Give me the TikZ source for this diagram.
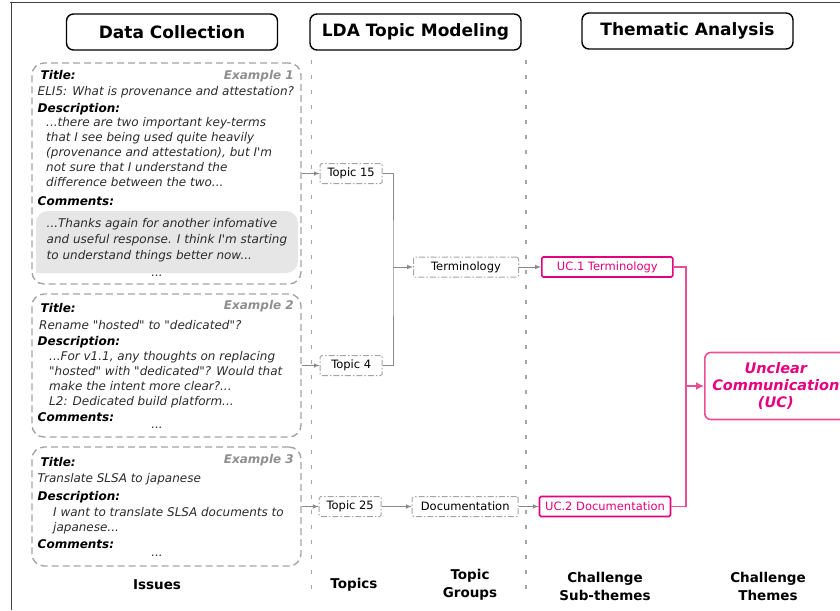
\documentclass[tikz,border=0pt]{standalone}
\usepackage{fontspec}
\setmainfont{DejaVu Sans}
\usetikzlibrary{arrows, arrows.meta, positioning}
\definecolor{mpink}{HTML}{E5007D}
\definecolor{mpinkl}{HTML}{EA4F96}
\definecolor{mgray}{HTML}{A5A5A5}
\definecolor{mdark}{HTML}{2B2B2B}
\definecolor{mtag}{HTML}{8F8F8F}
\definecolor{mbubble}{HTML}{E6E6E6}
\definecolor{mline}{HTML}{8A8A8A}
\tikzstyle{phase} = [rectangle, rounded corners=7pt, draw, line width=1.4pt, minimum width=211pt, minimum height=36pt, font=\bfseries\fontsize{17}{20}\selectfont]
\tikzstyle{issue} = [rectangle, rounded corners=12pt, draw=mgray, line width=1.4pt, dash pattern=on 7pt off 4pt, minimum width=269pt]
\tikzstyle{field} = [inner sep=0pt, anchor=base west, font=\bfseries\itshape\fontsize{12}{15}\selectfont]
\tikzstyle{tag} = [inner sep=0pt, anchor=base east, text=mtag, font=\bfseries\itshape\fontsize{12}{15}\selectfont]
\tikzstyle{body} = [inner sep=0pt, anchor=base west, align=left, text=mdark, font=\itshape\fontsize{12}{15}\selectfont]
\tikzstyle{lines} = [body, anchor=north west]
\tikzstyle{topic} = [rectangle, rounded corners=1.5pt, draw=mgray, line width=1pt, dash pattern=on 6pt off 2pt on 1.5pt off 2pt, minimum width=62pt, minimum height=20pt, inner sep=2pt, font=\fontsize{11.5}{14}\selectfont]
\tikzstyle{subtheme} = [rectangle, rounded corners=1.5pt, draw=mpink, line width=1.6pt, text=mpink, minimum width=131pt, minimum height=20pt, inner sep=2pt, font=\fontsize{11.5}{14}\selectfont]
\tikzstyle{theme} = [rectangle, rounded corners=6pt, draw=mpinkl, line width=1.6pt, text=mpink, align=center, minimum width=142pt, minimum height=67pt, font=\bfseries\itshape\fontsize{14.5}{17}\selectfont]
\tikzstyle{colname} = [align=center, font=\bfseries\fontsize{13.5}{18}\selectfont]
\tikzstyle{divider} = [mgray, line width=1.5pt, dash pattern=on 4pt off 11pt]
\tikzstyle{cable} = [line width=1pt, mline, ->, >=latex]
\tikzstyle{wire} = [line width=1pt, mline]
\tikzstyle{pcable} = [line width=1.5pt, mpinkl, -{Latex[length=8pt, width=8pt]}]
\tikzstyle{pwire} = [line width=1.5pt, mpinkl]

\begin{document}
\begin{tikzpicture}[x=1pt, y=-1pt]
  \useasboundingbox (0,0) rectangle (840,610);
  \draw [black!75, line width=1pt] (10,3) -- (840,3);
  \draw [black!75, line width=1pt] (11,3) -- (11,610);
  % phases
  \node (dc) [phase] at (172,32) {Data Collection};
  \node (lda) [phase] at (415.5,32) {LDA Topic Modeling};
  \node (ta) [phase] at (687.5,31) {Thematic Analysis};
  \draw [divider] (311.5,60) -- (311.5,592);
  \draw [divider] (526,60) -- (526,592);
  % issue 1
  \node (ex1) [issue, minimum height=221pt] at (166.5,173.5) {};
  \fill [mbubble, rounded corners=12pt] (36,273) -- (36,211) -- (298,211) -- (298,273) -- (36,273);
  \node (ex1title) [field] at (40.5,79) {Title:};
  \node (ex1tag) [tag] at (294,79) {Example 1};
  \node (ex1name) [body] at (37.5,95.5) {ELI5: What is provenance and attestation?};
  \node (ex1desc) [field] at (37.5,112) {Description:};
  \node (ex1text) [lines] at (46,117.4) {...there are two important key-terms\\that I see being used quite heavily\\(provenance and attestation), but I\textquotesingle m\\not sure that I understand the\\difference between the two...};
  \node (ex1com) [field] at (37.5,205) {Comments:};
  \node (ex1reply) [lines, font=\itshape\fontsize{12}{16}\selectfont] at (46.5,218.4) {...Thanks again for another infomative\\and useful response. I think I\textquotesingle m starting\\to understand things better now...};
  \node (ex1more) [body, anchor=base] at (157,276) {...};
  % issue 2
  \node (ex2) [issue, minimum height=143pt] at (166.5,365.5) {};
  \node (ex2title) [field] at (40.5,312.5) {Title:};
  \node (ex2tag) [tag] at (294,309.5) {Example 2};
  \node (ex2name) [body] at (39,329.5) {Rename \textquotedbl hosted\textquotedbl{} to \textquotedbl dedicated\textquotedbl ?};
  \node (ex2desc) [field] at (37.5,345.5) {Description:};
  \node (ex2text) [lines, font=\itshape\fontsize{12}{14.8}\selectfont] at (49,351.4) {...For v1.1, any thoughts on replacing\\\textquotedbl hosted\textquotedbl{} with \textquotedbl dedicated\textquotedbl ? Would that\\make the intent more clear?...\\L2: Dedicated build platform...};
  \node (ex2com) [field] at (37.5,421) {Comments:};
  \node (ex2more) [body, anchor=base] at (157,428.5) {...};
  % issue 3
  \node (ex3) [issue, minimum height=119pt] at (166.5,506.5) {};
  \node (ex3title) [field] at (40.5,466.5) {Title:};
  \node (ex3tag) [tag] at (294,463.5) {Example 3};
  \node (ex3name) [body] at (37.5,482.5) {Translate SLSA to japanese};
  \node (ex3desc) [field] at (37.5,500.5) {Description:};
  \node (ex3text) [lines] at (53,507.4) {I want to translate SLSA documents to\\japanese...};
  \node (ex3com) [field] at (37.5,548.5) {Comments:};
  \node (ex3more) [body, anchor=base] at (157,556) {...};
  % topics and groups
  \node (t15) [topic, right=18pt of ex1] {Topic 15};
  \node (t4) [topic, right=18pt of ex2] {Topic 4};
  \node (t25) [topic, right=17pt of ex3] {Topic 25};
  \coordinate (tj) at (393,267);
  \node (term) [topic, minimum width=105pt, right=20pt of tj] {Terminology};
  \node (doc) [topic, minimum width=106pt, right=30pt of t25] {Documentation};
  \draw [cable] (ex1.east |- t15) -- (t15);
  \draw [cable] (ex2.east |- t4) -- (t4);
  \draw [cable] (ex3.east |- t25) -- (t25);
  \draw [wire] (t15) -| (tj) |- (t4);
  \draw [cable] (tj) -- (term);
  \draw [cable] (t25) -- (doc);
  % themes
  \node (uc1) [subtheme, right=22pt of term] {UC.1 Terminology};
  \node (uc2) [subtheme, right=20pt of doc] {UC.2 Documentation};
  \coordinate (uj) at (686,386);
  \node (uc) [theme, right=18pt of uj] {Unclear\\Communication\\(UC)};
  \draw [cable] (term) -- (uc1);
  \draw [cable] (doc) -- (uc2);
  \draw [pwire] (uc1) -| (uj) |- (uc2);
  \draw [pcable] (uj) -- (uc);
  % column names
  \node (issues) [colname] at (157,585) {Issues};
  \node (topics) [colname] at (354,585) {Topics};
  \node (groups) [colname] at (470,585) {Topic\\Groups};
  \node (subthemes) [colname] at (605,586) {Challenge\\Sub-themes};
  \node (themes) [colname] at (768,586) {Challenge\\Themes};
\end{tikzpicture}
\end{document}
